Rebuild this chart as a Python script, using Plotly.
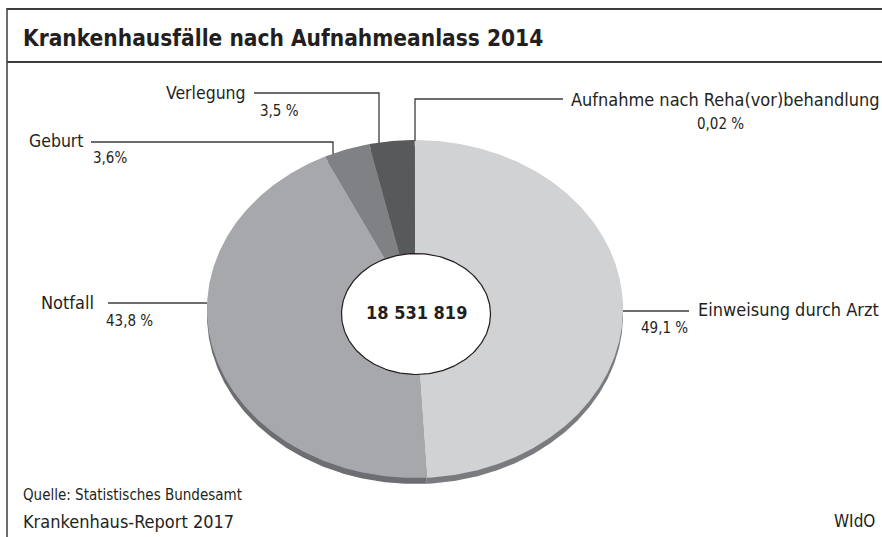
import numpy as np
import plotly.graph_objects as go

# ---- data ----
categories = ["Einweisung durch Arzt", "Notfall", "Geburt", "Verlegung",
              "Aufnahme nach Reha(vor)behandlung"]
shares = [49.1, 43.8, 3.6, 3.5, 0.02]
share_labels = ["49,1 %", "43,8 %", "3,6%", "3,5 %", "0,02 %"]
total_label = "18 531 819"
title = "Krankenhausfälle nach Aufnahmeanlass 2014"
source = "Quelle: Statistisches Bundesamt"
report = "Krankenhaus-Report 2017"
brand = "WIdO"

# ---- style ----
W, H = 882, 537
colors = ["#d1d2d4", "#a7a8ab", "#808184", "#58595b", "#3a3a3c"]
shadow_colors = ["#7a7b7e", "#6d6e71", "#5e5f62", "#4a4b4d", "#3a3a3c"]
CX, CY, RX, RY = 415, 309, 208, 169
HX, HY, HRX, HRY = 416, 314, 74.5, 60.5
DEPTH = 6
FONT = "Liberation Sans Narrow, DejaVu Sans Condensed, Arial Narrow, sans-serif"
TXT = "#231f20"
LINE = "#3c3c3c"

fig = go.Figure()


def wedge(a0, a1, dy=0):
    t = np.linspace(a0, a1, max(3, int(abs(a1 - a0) / 0.5) + 2))
    r = np.radians(t)
    xs = np.concatenate([[CX], CX + RX * np.sin(r), [CX]])
    ys = np.concatenate([[CY + dy], CY + dy - RY * np.cos(r), [CY + dy]])
    return xs, ys


total = sum(shares)
angles = np.concatenate([[0], np.cumsum(shares) / total * 360])

# shadow (3D rim)
for i, c in enumerate(categories):
    xs, ys = wedge(angles[i], angles[i + 1], DEPTH)
    fig.add_trace(go.Scatter(x=xs, y=ys, mode="lines", fill="toself",
                             fillcolor=shadow_colors[i], line=dict(width=0),
                             hoverinfo="skip", showlegend=False))
# top surface
for i, c in enumerate(categories):
    xs, ys = wedge(angles[i], angles[i + 1])
    fig.add_trace(go.Scatter(x=xs, y=ys, mode="lines", fill="toself",
                             fillcolor=colors[i], line=dict(width=0),
                             name=c, text=f"{c}: {share_labels[i]}",
                             hoverinfo="text", showlegend=False))

# hole
th = np.radians(np.linspace(0, 360, 181))
fig.add_trace(go.Scatter(x=HX + HRX * np.cos(th), y=HY + HRY * np.sin(th),
                         mode="lines", fill="toself", fillcolor="white",
                         line=dict(color="#231f20", width=1.2),
                         hoverinfo="skip", showlegend=False))

shapes = [
    dict(type="line", x0=7, x1=W, y0=9, y1=9, line=dict(color=LINE, width=2)),
    dict(type="line", x0=7, x1=W, y0=62, y1=62, line=dict(color=LINE, width=2)),
    dict(type="line", x0=7, x1=7, y0=8, y1=H, line=dict(color=LINE, width=1.5)),
]


def path(points):
    d = "M " + " L ".join(f"{x},{y}" for x, y in points)
    return dict(type="path", path=d, line=dict(color=LINE, width=1.3))


shapes += [
    path([(254, 93), (379, 93), (379, 143)]),       # Verlegung
    path([(91, 142), (333, 142), (333, 154)]),       # Geburt
    path([(563, 99), (415, 99), (415, 141)]),        # Reha
    path([(108, 303), (207, 303)]),                  # Notfall
    path([(623, 311), (689, 311)]),                  # Einweisung
]

ann = []


def text(x, y, s, size, anchor="left", bold=False, color=TXT):
    ann.append(dict(x=x, y=y, xref="x", yref="y", text=f"<b>{s}</b>" if bold else s,
                    showarrow=False, xanchor=anchor, yanchor="middle",
                    font=dict(family=FONT, size=size, color=color)))


text(21, 38, title, 22.5, bold=True)
text(248, 93, categories[3], 17.5, "right")
text(258, 111, share_labels[3], 15)
text(86, 141, categories[2], 17.5, "right")
text(91, 158, share_labels[2], 15)
text(569, 99, categories[4], 18)
text(720, 124, share_labels[4], 15, "center")
text(96, 302, categories[1], 18, "right")
text(104, 321, share_labels[1], 15)
text(696, 309, categories[0], 18)
text(690, 328, share_labels[0], 15, "right")
text(416, 312, total_label, 18, "center", bold=True)
text(21, 495, source, 15)
text(21, 521, report, 18)
text(877, 521, brand, 17, "right")

fig.update_layout(
    width=W, height=H, autosize=False,
    margin=dict(l=0, r=0, t=0, b=0),
    paper_bgcolor="white", plot_bgcolor="white",
    xaxis=dict(range=[0, W], visible=False, fixedrange=True),
    yaxis=dict(range=[H, 0], visible=False, fixedrange=True),
    shapes=shapes, annotations=ann, showlegend=False,
)

fig.write_html("out.html", config={"displayModeBar": False},
               post_script="document.body.style.margin='0';"
                           "document.body.style.overflow='hidden';")
